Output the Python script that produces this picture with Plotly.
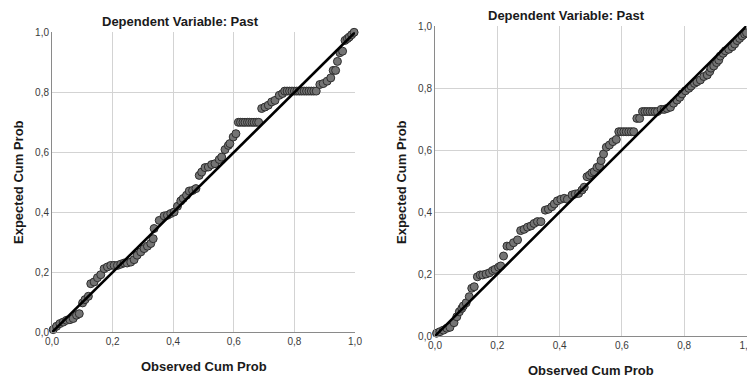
import plotly.graph_objects as go

# ---------------- data ----------------
tick_vals = [0.0, 0.2, 0.4, 0.6, 0.8, 1.0]
tick_text = ["0,0", "0,2", "0,4", "0,6", "0,8", "1,0"]

title_text = "Dependent Variable: Past"
x_title = "Observed Cum Prob"
y_title = "Expected Cum Prob"

ref_line_x = [0.0, 1.0]
ref_line_y = [0.0, 1.0]

left_obs = [0.004, 0.015, 0.026, 0.037, 0.048, 0.059, 0.070, 0.081, 0.090, 0.101,
            0.109, 0.120, 0.128, 0.139, 0.150, 0.161, 0.172, 0.183, 0.194, 0.205,
            0.216, 0.227, 0.238, 0.248, 0.260, 0.271, 0.281, 0.293, 0.304, 0.315,
            0.326, 0.334, 0.337, 0.354, 0.370, 0.381, 0.392, 0.403, 0.414, 0.425,
            0.433, 0.444, 0.453, 0.464, 0.475, 0.486, 0.494, 0.505, 0.516, 0.527,
            0.538, 0.552, 0.560, 0.571, 0.582, 0.587, 0.598, 0.607,
            0.615, 0.622, 0.630, 0.637, 0.645, 0.652, 0.660, 0.667, 0.675, 0.682,
            0.692, 0.703, 0.714, 0.725, 0.736, 0.750, 0.761,
            0.768, 0.776, 0.784, 0.792, 0.800, 0.808, 0.816, 0.824, 0.832, 0.840,
            0.848, 0.856, 0.864, 0.872,
            0.884, 0.895, 0.908, 0.920, 0.928, 0.936, 0.942, 0.950, 0.959, 0.967,
            0.975, 0.981, 0.989, 0.997]
left_exp = [0.009, 0.020, 0.029, 0.034, 0.040, 0.042, 0.046, 0.057, 0.062, 0.098,
            0.109, 0.120, 0.162, 0.168, 0.182, 0.192, 0.212, 0.218, 0.223, 0.223,
            0.223, 0.227, 0.231, 0.231, 0.234, 0.242, 0.257, 0.268, 0.279, 0.287,
            0.296, 0.312, 0.346, 0.373, 0.388, 0.390, 0.396, 0.401, 0.420, 0.438,
            0.446, 0.457, 0.471, 0.473, 0.479, 0.523, 0.534, 0.549, 0.551, 0.559,
            0.562, 0.576, 0.584, 0.609, 0.623, 0.629, 0.651, 0.662,
            0.700, 0.700, 0.700, 0.700, 0.700, 0.700, 0.700, 0.700, 0.700, 0.700,
            0.746, 0.751, 0.757, 0.768, 0.773, 0.790, 0.796,
            0.804, 0.804, 0.804, 0.804, 0.804, 0.804, 0.804, 0.804, 0.804, 0.804,
            0.804, 0.804, 0.804, 0.804,
            0.826, 0.829, 0.837, 0.848, 0.873, 0.873, 0.903, 0.932, 0.937, 0.973,
            0.979, 0.984, 0.992, 1.000]

right_obs = [0.005, 0.016, 0.027, 0.038, 0.048, 0.061, 0.070, 0.078, 0.086, 0.091,
             0.100, 0.110, 0.118, 0.126, 0.136, 0.145, 0.153, 0.164, 0.175, 0.185,
             0.193, 0.204, 0.211, 0.220, 0.231, 0.241, 0.252, 0.265, 0.275, 0.286,
             0.297, 0.308, 0.318, 0.329, 0.340, 0.354, 0.364, 0.375, 0.383, 0.393,
             0.404, 0.415, 0.425, 0.440, 0.450, 0.461, 0.472, 0.479, 0.488, 0.496,
             0.504, 0.511, 0.520, 0.528, 0.533, 0.541, 0.550, 0.560, 0.571, 0.582,
             0.590, 0.598, 0.606, 0.614, 0.622, 0.630, 0.638,
             0.648, 0.657,
             0.666, 0.674, 0.682, 0.690, 0.698, 0.706, 0.714,
             0.726, 0.736, 0.745, 0.756, 0.766, 0.777, 0.786, 0.793, 0.804, 0.815,
             0.822, 0.833, 0.841, 0.852, 0.863, 0.874, 0.882, 0.886, 0.895, 0.904,
             0.911, 0.916, 0.925, 0.932, 0.943, 0.954, 0.962, 0.970, 0.978, 0.986,
             0.994, 1.000]
right_exp = [0.009, 0.014, 0.019, 0.025, 0.028, 0.043, 0.062, 0.078, 0.089, 0.097,
             0.107, 0.127, 0.154, 0.159, 0.191, 0.197, 0.197, 0.200, 0.204, 0.211,
             0.215, 0.222, 0.226, 0.258, 0.290, 0.290, 0.301, 0.310, 0.340, 0.344,
             0.351, 0.355, 0.363, 0.369, 0.369, 0.406, 0.409, 0.417, 0.426, 0.436,
             0.441, 0.444, 0.441, 0.455, 0.458, 0.460, 0.471, 0.480, 0.514, 0.519,
             0.527, 0.530, 0.544, 0.548, 0.566, 0.587, 0.609, 0.616, 0.627, 0.634,
             0.659, 0.659, 0.659, 0.659, 0.659, 0.659, 0.659,
             0.702, 0.702,
             0.724, 0.724, 0.724, 0.724, 0.724, 0.724, 0.724,
             0.731, 0.731, 0.734, 0.738, 0.751, 0.761, 0.770, 0.781, 0.791, 0.799,
             0.806, 0.815, 0.820, 0.826, 0.837, 0.842, 0.853, 0.864, 0.871, 0.882,
             0.890, 0.903, 0.912, 0.920, 0.925, 0.933, 0.942, 0.953, 0.960, 0.968,
             0.974, 0.978]

# ---------------- figure ----------------
W, H = 747, 379
FONT = "Liberation Sans, Arial, sans-serif"

fig = go.Figure()

marker_style = dict(size=8, color="#747474", line=dict(color="#2e2e2e", width=1))

fig.add_trace(go.Scatter(x=left_obs, y=left_exp, mode="markers", marker=marker_style,
                         xaxis="x", yaxis="y", cliponaxis=False, showlegend=False))
fig.add_trace(go.Scatter(x=ref_line_x, y=ref_line_y, mode="lines",
                         line=dict(color="black", width=2.6),
                         xaxis="x", yaxis="y", cliponaxis=False, showlegend=False))
fig.add_trace(go.Scatter(x=right_obs, y=right_exp, mode="markers", marker=marker_style,
                         xaxis="x2", yaxis="y2", cliponaxis=False, showlegend=False))
fig.add_trace(go.Scatter(x=ref_line_x, y=ref_line_y, mode="lines",
                         line=dict(color="black", width=2.6),
                         xaxis="x2", yaxis="y2", cliponaxis=False, showlegend=False))

def px_x(p):
    return p / W

def px_y(p):
    return 1 - p / H

axis_common = dict(range=[0, 1], tickvals=tick_vals, ticktext=tick_text,
                   showgrid=True, gridcolor="#d3d3d3", gridwidth=1,
                   zeroline=False, showline=True, linecolor="#8a8a8a", linewidth=1,
                   ticks="", tickfont=dict(family=FONT, size=10, color="#3a3a3a"),
                   automargin=False, fixedrange=True)

fig.update_layout(
    width=W, height=H,
    margin=dict(l=0, r=0, t=0, b=0, pad=0, autoexpand=False),
    paper_bgcolor="white", plot_bgcolor="white",
    hovermode=False,
    xaxis=dict(domain=[px_x(52), px_x(355)], anchor="y", **axis_common),
    yaxis=dict(domain=[px_y(332.3), px_y(32.3)], anchor="x", **axis_common),
    xaxis2=dict(domain=[px_x(435), px_x(746.5)], anchor="y2",
                ticklabeloverflow="allow", **axis_common),
    yaxis2=dict(domain=[px_y(336), px_y(26)], anchor="x2", **axis_common),
)

title_font = dict(family=FONT, size=13, color="#1a1a1a")
annots = [
    dict(text="<b>%s</b>" % title_text, x=px_x(180), y=px_y(21)),
    dict(text="<b>%s</b>" % title_text, x=px_x(566), y=px_y(15)),
    dict(text="<b>%s</b>" % x_title, x=px_x(203.5), y=px_y(366)),
    dict(text="<b>%s</b>" % x_title, x=px_x(591), y=px_y(370)),
    dict(text="<b>%s</b>" % y_title, x=px_x(18.5), y=px_y(182.5), textangle=-90),
    dict(text="<b>%s</b>" % y_title, x=px_x(401), y=px_y(182), textangle=-90),
]
for a in annots:
    fig.add_annotation(xref="paper", yref="paper", xanchor="center", yanchor="middle",
                       showarrow=False, font=title_font, **a)

fig.write_html("out.html",
               config={"displayModeBar": False, "staticPlot": True},
               post_script="document.body.style.margin='0';"
                           "document.body.style.overflow='hidden';")
